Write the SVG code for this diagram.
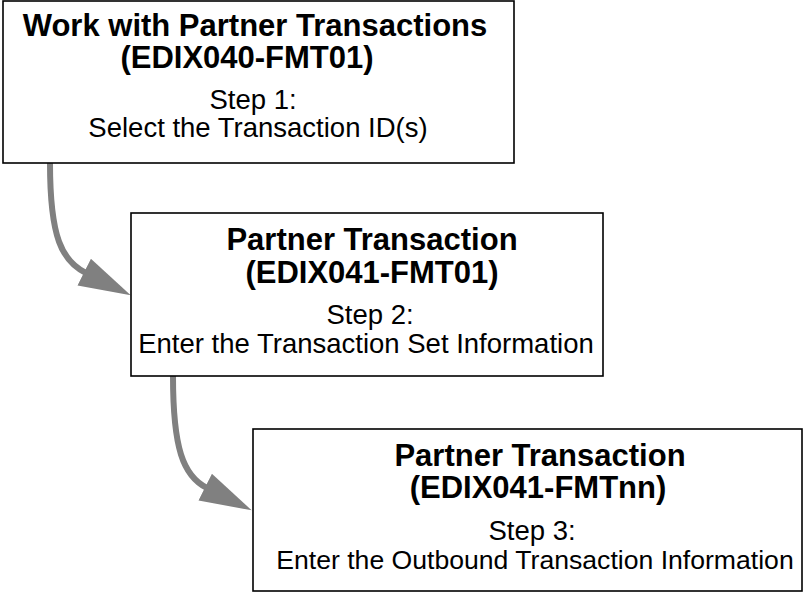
<svg xmlns="http://www.w3.org/2000/svg" width="804" height="593" viewBox="0 0 804 593">
  <style>
    .box { fill: #ffffff; stroke: #000000; stroke-width: 1.6; }
    .t { font-family: "Liberation Sans", Arial, sans-serif; font-weight: bold; font-size: 31px; fill: #000000; text-anchor: middle; }
    .s { font-family: "Liberation Sans", Arial, sans-serif; font-size: 27.5px; fill: #000000; text-anchor: middle; }
    .s3 { font-size: 26.6px; }
    .conn { fill: none; stroke: #808080; stroke-width: 6; }
  </style>
  <defs>
    <marker id="head" markerUnits="userSpaceOnUse" markerWidth="54" markerHeight="34" viewBox="-2 -17 54 34" refX="0" refY="0" orient="auto">
      <path d="M-2,-15 L50,0 L-2,15 z" fill="#808080"/>
    </marker>
  </defs>
  <rect width="804" height="593" fill="#ffffff"/>

  <g id="connectors">
    <path class="conn" d="M50,163 C50,238 62,261 86,273" marker-end="url(#head)"/>
    <path class="conn" d="M173,376 C173,448 183,476 207,488" marker-end="url(#head)"/>
  </g>

  <g id="node1">
    <rect class="box" x="3" y="1" width="511" height="162"/>
    <text class="t" x="255" y="36">Work with Partner Transactions</text>
    <text class="t" x="247" y="68">(EDIX040-FMT01)</text>
    <text class="s" x="253" y="109">Step 1:</text>
    <text class="s" x="258" y="137">Select the Transaction ID(s)</text>
  </g>

  <g id="node2">
    <rect class="box" x="131" y="213" width="472" height="163"/>
    <text class="t" x="372" y="250">Partner Transaction</text>
    <text class="t" x="372" y="283">(EDIX041-FMT01)</text>
    <text class="s" x="370" y="324">Step 2:</text>
    <text class="s" x="366" y="353">Enter the Transaction Set Information</text>
  </g>

  <g id="node3">
    <rect class="box" x="253" y="429" width="549" height="162"/>
    <text class="t" x="540" y="466">Partner Transaction</text>
    <text class="t" x="538" y="498">(EDIX041-FMTnn)</text>
    <text class="s" x="532" y="540">Step 3:</text>
    <text class="s s3" x="535" y="569">Enter the Outbound Transaction Information</text>
  </g>
</svg>
